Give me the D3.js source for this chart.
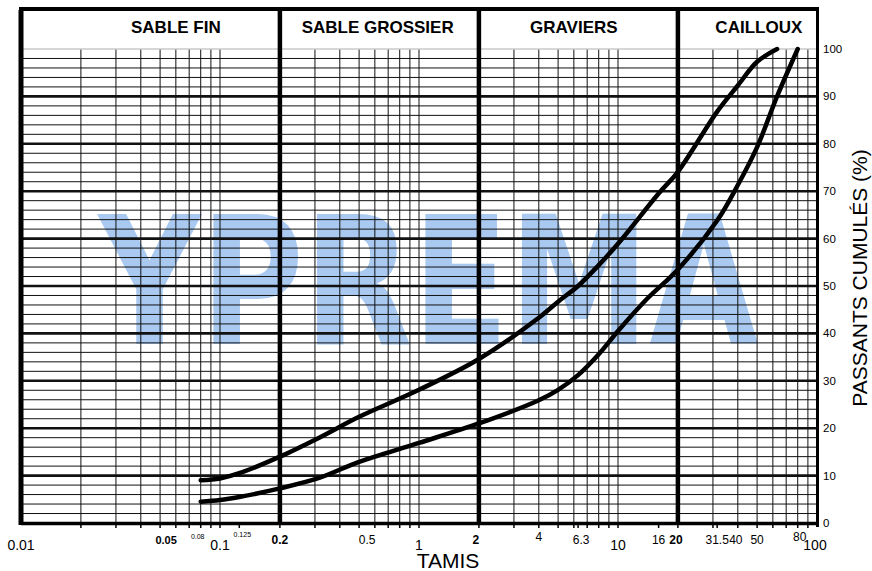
<!DOCTYPE html>
<html>
<head>
<meta charset="utf-8">
<script src="https://cdn.jsdelivr.net/npm/d3@7"></script>
<style>
  html, body { margin: 0; padding: 0; background: #fff; }
  svg { display: block; font-family: "Liberation Sans", Arial, sans-serif; }
</style>
</head>
<body>
<svg id="chart" width="872" height="571"></svg>
<script>
// ---------- DATA ----------
const sectionLabels = ["SABLE FIN", "SABLE GROSSIER", "GRAVIERS", "CAILLOUX"];
const sectionLabelAt = [0.06, 0.62, 6.0, 51];
const sectionBounds = [0.2, 2, 20];

const upperSieves = [0.08, 0.1, 0.125, 0.2, 0.315, 0.5, 1, 2, 4, 5, 6.3, 8, 10, 16, 20, 31.5, 40, 50, 63];
const upperPass   = [9.0, 9.4, 10.5, 14.0, 18.0, 22.4, 28.1, 34.6, 43.3, 46.7, 50.0, 54.4, 58.9, 69.5, 74.1, 86.8, 92.3, 97.3, 100];

const lowerSieves = [0.08, 0.1, 0.125, 0.2, 0.315, 0.5, 1, 2, 4, 5, 6.3, 8, 10, 14, 20, 31.5, 40, 50, 63, 80];
const lowerPass   = [4.5, 4.85, 5.5, 7.3, 9.5, 12.9, 16.9, 21.0, 25.9, 28.1, 31.2, 35.6, 40.5, 47.3, 53.5, 63.8, 71.3, 79.3, 90.0, 100];

const xTickLabels = ["0.01", "0.05", "0.08", "0.1", "0.125", "0.2", "0.5", "1", "2", "4", "6.3", "10", "16", "20", "31.5", "40", "50", "80", "100"];
const xExtraTicks = [0.125, 6.3, 16, 31.5];
const yTickLabels = ["0", "10", "20", "30", "40", "50", "60", "70", "80", "90", "100"];

const xTitle = "TAMIS";
const yTitle = "PASSANTS CUMULÉS (%)";
const watermark = "YPREMA";

// ---------- SCALES ----------
const svg = d3.select("#chart");
const x = d3.scaleLog().domain([0.01, 100]).range([21, 817]);
const y = d3.scaleLinear().domain([0, 100]).range([523, 49]);
const topY = 9;

svg.append("rect").attr("width", 872).attr("height", 571).attr("fill", "#fff");

// watermark
svg.append("text")
  .attr("x", x(0.0245)).attr("y", y(37.8))
  .attr("font-family", "DejaVu Sans")
  .attr("font-weight", "bold")
  .attr("font-size", 178)
  .attr("textLength", 660)
  .attr("lengthAdjust", "spacingAndGlyphs")
  .attr("fill", "#a9c9f0")
  .text(watermark);

// minor vertical grid
const minorV = [];
for (let k = -2; k <= 1; k++) {
  for (let n = 1; n <= 9; n++) {
    const v = +(n * Math.pow(10, k)).toPrecision(3);
    if (v <= 0.01 || v >= 100) continue;
    if (sectionBounds.includes(v)) continue;
    minorV.push(v);
  }
}
svg.append("g").selectAll("line").data(minorV).join("line")
  .attr("x1", d => x(d)).attr("x2", d => x(d))
  .attr("y1", y(100)).attr("y2", y(0))
  .attr("stroke", "#111").attr("stroke-width", 1);

// horizontal grid
const hVals = d3.range(2, 100, 2);
svg.append("g").selectAll("line").data(hVals).join("line")
  .attr("x1", x(0.01)).attr("x2", x(100))
  .attr("y1", d => y(d)).attr("y2", d => y(d))
  .attr("stroke", "#111")
  .attr("stroke-width", d => d % 10 === 0 ? 2.6 : 1);

// 100% light line
svg.append("line")
  .attr("x1", x(0.01)).attr("x2", x(100))
  .attr("y1", y(100)).attr("y2", y(100))
  .attr("stroke", "#c8c8c8").attr("stroke-width", 1.5);

// bottom ticks
const tickVals = minorV.concat(xExtraTicks).concat(sectionBounds);
svg.append("g").selectAll("line").data(tickVals).join("line")
  .attr("x1", d => x(d)).attr("x2", d => x(d))
  .attr("y1", y(0)).attr("y2", y(0) + 5)
  .attr("stroke", "#000").attr("stroke-width", 1.5);

// section dividers
svg.append("g").selectAll("line").data(sectionBounds).join("line")
  .attr("x1", d => x(d)).attr("x2", d => x(d))
  .attr("y1", topY).attr("y2", y(0) + 2)
  .attr("stroke", "#000").attr("stroke-width", 4.5);

// borders
svg.append("line").attr("x1", 19).attr("x2", x(100) + 2).attr("y1", topY).attr("y2", topY)
  .attr("stroke", "#000").attr("stroke-width", 4);
svg.append("line").attr("x1", x(0.01)).attr("x2", x(0.01)).attr("y1", topY + 1).attr("y2", y(0) + 2)
  .attr("stroke", "#000").attr("stroke-width", 5);
svg.append("line").attr("x1", x(100) + 0.5).attr("x2", x(100) + 0.5).attr("y1", topY).attr("y2", y(0) + 4)
  .attr("stroke", "#000").attr("stroke-width", 3);
svg.append("line").attr("x1", x(0.01)).attr("x2", x(100) + 2).attr("y1", y(0) + 0.5).attr("y2", y(0) + 0.5)
  .attr("stroke", "#000").attr("stroke-width", 3.5);

// curves
const line = d3.line().x(d => x(d[0])).y(d => y(d[1])).curve(d3.curveCatmullRom.alpha(0.5));
[[upperSieves, upperPass], [lowerSieves, lowerPass]].forEach(([s, p]) => {
  svg.append("path")
    .attr("d", line(s.map((v, i) => [v, p[i]])))
    .attr("fill", "none").attr("stroke", "#000")
    .attr("stroke-width", 4.5).attr("stroke-linecap", "round").attr("stroke-linejoin", "round");
});

// section labels
svg.append("g").selectAll("text").data(sectionLabels).join("text")
  .attr("x", (d, i) => x(sectionLabelAt[i])).attr("y", 33)
  .attr("text-anchor", "middle")
  .attr("font-weight", "bold").attr("font-size", 17)
  .text(d => d);

// x tick labels
const bigSet = ["0.01", "0.1", "1", "10", "100"];
const boldSet = ["0.05", "0.2", "2", "20"];
const tinySet = ["0.08", "0.125"];
const labelDx = { "0.05": 6, "0.5": 8, "6.3": 3, "2": -3, "0.125": 3, "0.08": -3, "40": -2, "80": 2, "100": -2, "20": -2 };
svg.append("g").selectAll("text").data(xTickLabels).join("text")
  .attr("x", d => x(+d) + (labelDx[d] || 0))
  .attr("y", d => bigSet.includes(d) ? 550 : tinySet.includes(d) ? (d === "0.125" ? 537 : 539) : (d === "4" || d === "80") ? 540.5 : 544)
  .attr("text-anchor", "middle")
  .attr("font-weight", d => boldSet.includes(d) ? "bold" : "normal")
  .attr("font-size", d => bigSet.includes(d) ? 14 : tinySet.includes(d) ? 7 : d === "0.05" ? 11 : 12)
  .text(d => d);

// y tick labels
svg.append("g").selectAll("text").data(yTickLabels).join("text")
  .attr("x", 823).attr("y", d => y(+d) + 4)
  .attr("font-size", 11.5)
  .text(d => d);

// titles
svg.append("text").attr("x", 448).attr("y", 568)
  .attr("text-anchor", "middle").attr("font-size", 21).text(xTitle);
svg.append("text")
  .attr("transform", "translate(867," + 278 + ") rotate(-90)")
  .attr("text-anchor", "middle").attr("font-size", 21).text(yTitle);
</script>
</body>
</html>
